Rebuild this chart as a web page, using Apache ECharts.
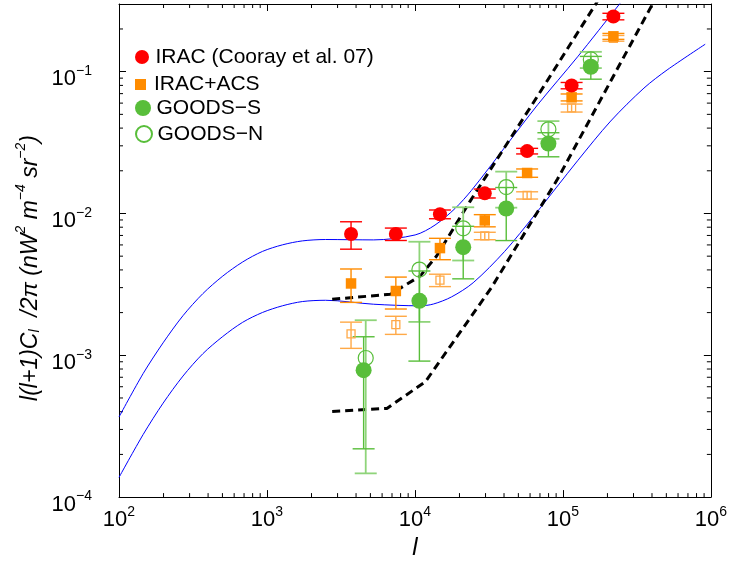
<!DOCTYPE html>
<html>
<head>
<meta charset="utf-8">
<script src="https://cdn.jsdelivr.net/npm/echarts@6/dist/echarts.min.js"></script>
<style>html,body{margin:0;padding:0;background:#fff}#c{width:730px;height:565px}</style>
</head>
<body>
<div id="c"></div>
<script>
// ---------------- data ----------------
const X_MIN = 100, X_MAX = 1000000;
const Y_MIN = 0.0001, Y_MAX = 0.3;
const xMajorTicks = [100, 1000, 10000, 100000, 1000000];
const yMajorTicks = [0.0001, 0.001, 0.01, 0.1];
const minorMult = [2, 3, 4, 5, 6, 7, 8, 9];

// IRAC (Cooray et al. 07)
const iracL   = [3700, 7430, 14760, 29650, 57300, 114500, 219400];
const iracV   = [0.00717, 0.00717, 0.00988, 0.01386, 0.02754, 0.0798, 0.245];
const iracErr = [0.00157, 0.00072, 0.00070, 0.00100, 0.00125, 0.0041, 0.013];

// IRAC+ACS (filled squares)
const acsL   = [3700, 7430, 14760, 29650, 57300, 114500, 219400];
const acsV   = [0.00321, 0.00284, 0.0057, 0.00893, 0.0193, 0.0659, 0.1775];
const acsErr = [0.00085, 0.00072, 0.00098, 0.00088, 0.0013, 0.0037, 0.0085];

// IRAC+ACS second estimate (open squares)
const acs2L   = [3700, 7430, 14760, 29650, 57300, 114500, 219400];
const acs2V   = [0.001416, 0.001644, 0.00339, 0.00695, 0.01343, 0.0555, 0.172];
const acs2Err = [0.000297, 0.00024, 0.00034, 0.00042, 0.00079, 0.0036, 0.008];

// GOODS-S (filled circles)
const gsL   = [4500, 10720, 21200, 41400, 79800, 154400];
const gsV   = [0.000785, 0.00242, 0.00579, 0.01084, 0.0311, 0.1083];
const gsErr = [0.000566, 0.00151, 0.00233, 0.0044, 0.0060, 0.0198];

// GOODS-N (open circles)
const gnL   = [4650, 10720, 21200, 41400, 79800, 154400];
const gnV   = [0.000957, 0.00402, 0.00786, 0.01536, 0.0392, 0.1220];
const gnErr = [0.00081, 0.0023, 0.0032, 0.00437, 0.0056, 0.016];

// model curves (blue)
const upL = [100, 145.7, 198.6, 270.6, 368.7, 502.7, 684.8, 933.5, 1272, 1734, 2490, 5260, 10030, 13670, 18640, 24090, 40410, 67660, 125700, 239600, 281000];
const upV = [0.000367, 0.000744, 0.001224, 0.001902, 0.002721, 0.003618, 0.004549, 0.005403, 0.006008, 0.006406, 0.006553, 0.006511, 0.007057, 0.008286, 0.01083, 0.01454, 0.02920, 0.0586, 0.1273, 0.2969, 0.3652];
const loL = [100, 145.7, 198.6, 270.6, 368.7, 502.7, 684.8, 933.5, 1272, 1734, 2490, 5260, 10840, 13320, 17680, 24740, 40410, 64290, 125700, 210400, 352900, 505900, 915600];
const loV = [0.0001377, 0.0002765, 0.0004595, 0.0007136, 0.001026, 0.001357, 0.001708, 0.002005, 0.002233, 0.002393, 0.002443, 0.002291, 0.002233, 0.002298, 0.002581, 0.003247, 0.005403, 0.009730, 0.02355, 0.04485, 0.07658, 0.1028, 0.1561];

// dashed bounds (black)
const udL = [2759, 6813, 10840, 14010, 23500, 67660, 166800, 176600];
const udV = [0.002483, 0.002692, 0.003618, 0.005010, 0.01213, 0.06766, 0.3002, 0.3321];
const ldL = [2759, 6462, 11770, 14610, 32840, 92200, 401300, 420300];
const ldV = [0.0004021, 0.0004220, 0.0006512, 0.0008981, 0.002996, 0.01755, 0.2969, 0.3242];

// ---------------- helpers ----------------
const FONT = '"Liberation Sans", Arial, Helvetica, sans-serif';
const RED = '#ff0000', ORANGE = '#ff8c00', ORANGE_L = '#ffa947', GREEN = '#58be3a', GREEN_L = '#8fd47a', BLUE = '#0000ff';

const pairs = (xs, ys) => xs.map((x, i) => [x, ys[i]]);
const errData = (xs, vs, es) => xs.map((x, i) => [x, vs[i] - es[i], vs[i] + es[i]]);

function supLabel(v) {
  const e = Math.round(Math.log10(v));
  if (Math.abs(v / Math.pow(10, e) - 1) > 1e-6) return '';
  return '{b|10}{s|' + String(e).replace('-', '\u2212') + '}';
}
const richX = {
  b: {fontSize: 22, fontFamily: FONT, color: '#000', lineHeight: 26, verticalAlign: 'bottom'},
  s: {fontSize: 14, fontFamily: FONT, color: '#000', lineHeight: 8, verticalAlign: 'top'}
};

function errSeries(name, data, color, width, halfCap, z) {
  return {
    type: 'custom', name: name, data: data, z: z, silent: true,
    encode: {x: 0, y: [1, 2]},
    renderItem: function (params, api) {
      const x = api.value(0);
      const a = api.coord([x, api.value(2)]);
      const b = api.coord([x, Math.max(api.value(1), Y_MIN)]);
      const st = {stroke: color, lineWidth: width};
      return {type: 'group', children: [
        {type: 'line', shape: {x1: a[0], y1: a[1], x2: b[0], y2: b[1]}, style: st},
        {type: 'line', shape: {x1: a[0] - halfCap, y1: a[1], x2: a[0] + halfCap, y2: a[1]}, style: st},
        {type: 'line', shape: {x1: b[0] - halfCap, y1: b[1], x2: b[0] + halfCap, y2: b[1]}, style: st}
      ]};
    }
  };
}

const xMinor = [];
xMajorTicks.slice(0, -1).forEach(d => minorMult.forEach(m => xMinor.push(d * m)));
const yMinor = [];
yMajorTicks.forEach(d => minorMult.forEach(m => { if (d * m < Y_MAX) yMinor.push(d * m); }));

const chart = echarts.init(document.getElementById('c'), null, {renderer: 'canvas'});

const axisCommon = {
  type: 'log', logBase: 10,
  axisLine: {show: true, lineStyle: {color: '#000', width: 1}},
  axisTick: {show: true, inside: true, length: 7, lineStyle: {color: '#000', width: 1}},
  splitLine: {show: false},
  minorTick: {show: false}
};
const legendText = {fontSize: 21, fontFamily: FONT, color: '#000'};

const option = {
  animation: false,
  backgroundColor: '#fff',
  grid: {left: 119, right: 16, top: 4, bottom: 63, containLabel: false},
  xAxis: [
    Object.assign({}, axisCommon, {
      position: 'bottom', min: X_MIN, max: X_MAX,
      axisLabel: {show: true, margin: 8, formatter: supLabel, rich: richX},
      name: '{i|l}', nameLocation: 'middle', nameGap: 37,
      nameTextStyle: {rich: {i: {fontSize: 24, fontStyle: 'italic', fontFamily: FONT, color: '#000'}}}
    }),
    Object.assign({}, axisCommon, {position: 'top', min: X_MIN, max: X_MAX, axisLabel: {show: false}})
  ],
  yAxis: [
    Object.assign({}, axisCommon, {
      position: 'left', min: Y_MIN, max: Y_MAX,
      axisLabel: {show: true, margin: 27, formatter: supLabel, rich: richX, padding: [11, 0, 0, 0]}
    }),
    Object.assign({}, axisCommon, {position: 'right', min: Y_MIN, max: Y_MAX, axisLabel: {show: false}})
  ],
  legend: [
    {data: [{name: 'IRAC (Cooray et al. 07)', icon: 'circle'}], left: 135, top: 53.5 - 7, itemWidth: 17, itemHeight: 14,
     padding: 0, selectedMode: false, textStyle: legendText},
    {data: [{name: 'IRAC+ACS', icon: 'path://M0,0L10,0L10,10L0,10Z'}], left: 135, top: 79.5 - 5.5, itemWidth: 17, itemHeight: 11,
     padding: 0, selectedMode: false, textStyle: legendText},
    {data: [{name: 'GOODS\u2212S', icon: 'circle'}], left: 135, top: 105.5 - 8, itemWidth: 17, itemHeight: 16,
     padding: 0, selectedMode: false, textStyle: legendText},
    {data: [{name: 'GOODS\u2212N', icon: 'circle'}], left: 135, top: 131.5 - 8, itemWidth: 17, itemHeight: 16,
     padding: 0, selectedMode: false, textStyle: legendText}
  ],
  graphic: [{
    type: 'text', x: 28, y: 268, rotation: Math.PI / 2, silent: true,
    style: {
      text: '{i|l(l+1)C}{sub|l}{i|  /2\u03c0 (nW}{sup|2}{i| m}{sup|\u22124}{i| sr}{sup|\u22122}{i|)}',
      align: 'center', verticalAlign: 'middle',
      rich: {
        i: {fontSize: 23, fontStyle: 'italic', fontFamily: FONT, fill: '#000', lineHeight: 28, verticalAlign: 'bottom'},
        sub: {fontSize: 14, fontStyle: 'italic', fontFamily: FONT, fill: '#000', lineHeight: 12, verticalAlign: 'bottom'},
        sup: {fontSize: 14, fontStyle: 'italic', fontFamily: FONT, fill: '#000', lineHeight: 10, verticalAlign: 'top'}
      }
    }
  }],
  series: [
    // minor ticks on x (bottom and top)
    {type: 'custom', silent: true, z: 1, data: xMinor.map(v => [v, Y_MIN]), encode: {x: 0, y: 1},
     renderItem: function (p, api) {
       const b = api.coord([api.value(0), Y_MIN]);
       const t = api.coord([api.value(0), Y_MAX]);
       const st = {stroke: '#000', lineWidth: 1};
       return {type: 'group', children: [
         {type: 'line', shape: {x1: b[0], y1: b[1], x2: b[0], y2: b[1] - 4}, style: st},
         {type: 'line', shape: {x1: t[0], y1: t[1], x2: t[0], y2: t[1] + 4}, style: st}
       ]};
     }},
    // minor ticks on y (left and right)
    {type: 'custom', silent: true, z: 1, data: yMinor.map(v => [X_MIN, v]), encode: {x: 0, y: 1},
     renderItem: function (p, api) {
       const l = api.coord([X_MIN, api.value(1)]);
       const r = api.coord([X_MAX, api.value(1)]);
       const st = {stroke: '#000', lineWidth: 1};
       return {type: 'group', children: [
         {type: 'line', shape: {x1: l[0], y1: l[1], x2: l[0] + 4, y2: l[1]}, style: st},
         {type: 'line', shape: {x1: r[0], y1: r[1], x2: r[0] - 4, y2: r[1]}, style: st}
       ]};
     }},
    // model curves
    {type: 'line', name: 'modelUpper', data: pairs(upL, upV), showSymbol: false, smooth: 0.3, z: 2, clip: true,
     lineStyle: {color: BLUE, width: 1}, silent: true},
    {type: 'line', name: 'modelLower', data: pairs(loL, loV), showSymbol: false, smooth: 0.3, z: 2, clip: true,
     lineStyle: {color: BLUE, width: 1}, silent: true},
    {type: 'line', name: 'boundUpper', data: pairs(udL, udV), showSymbol: false, smooth: false, z: 3, clip: true,
     lineStyle: {color: '#000', width: 3, type: [8, 5]}, silent: true},
    {type: 'line', name: 'boundLower', data: pairs(ldL, ldV), showSymbol: false, smooth: false, z: 3, clip: true,
     lineStyle: {color: '#000', width: 3, type: [8, 5]}, silent: true},
    // error bars
    errSeries('errN', errData(gnL, gnV, gnErr), GREEN_L, 1.8, 11, 4),
    errSeries('errS', errData(gsL, gsV, gsErr), GREEN, 1.4, 11, 4),
    errSeries('errACS2', errData(acs2L, acs2V, acs2Err), ORANGE_L, 1.4, 11, 4),
    errSeries('errACS', errData(acsL, acsV, acsErr), ORANGE, 1.4, 11, 4),
    errSeries('errIRAC', errData(iracL, iracV, iracErr), RED, 1.4, 11, 4),
    // markers
    {type: 'scatter', name: 'IRAC+ACS open', data: pairs(acs2L, acs2V), symbol: 'rect', symbolSize: 8, z: 5,
     itemStyle: {color: 'rgba(0,0,0,0)', borderColor: ORANGE_L, borderWidth: 1.3, opacity: 1}},
    {type: 'scatter', name: 'GOODS\u2212N', data: pairs(gnL, gnV), symbol: 'circle', symbolSize: 15, z: 5,
     itemStyle: {color: 'rgba(255,255,255,0)', borderColor: GREEN, borderWidth: 1.2, opacity: 1}},
    {type: 'scatter', name: 'GOODS\u2212S', data: pairs(gsL, gsV), symbol: 'circle', symbolSize: 16, z: 6,
     itemStyle: {color: GREEN, opacity: 1}},
    {type: 'scatter', name: 'IRAC+ACS', data: pairs(acsL, acsV), symbol: 'rect', symbolSize: 10.5, z: 6,
     itemStyle: {color: ORANGE, opacity: 1}},
    {type: 'scatter', name: 'IRAC (Cooray et al. 07)', data: pairs(iracL, iracV), symbol: 'circle', symbolSize: 14, z: 6,
     itemStyle: {color: RED, opacity: 1}}
  ]
};
chart.setOption(option);
</script>
</body>
</html>
